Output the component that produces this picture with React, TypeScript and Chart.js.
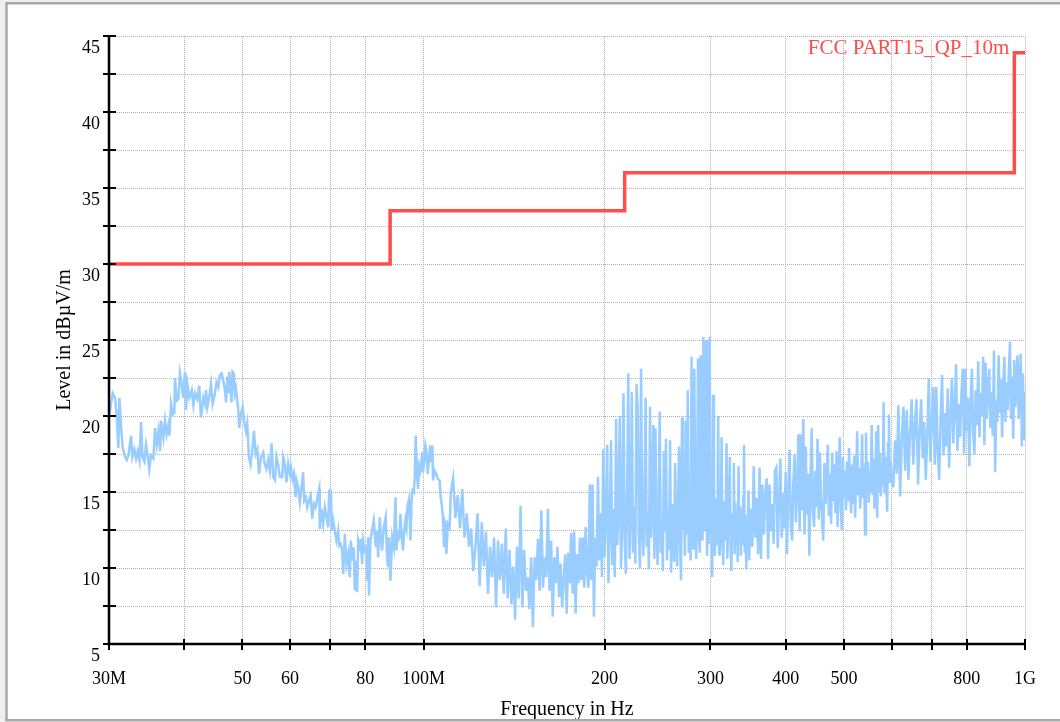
import React, { useEffect, useRef } from 'react';
import { Chart, registerables } from 'chart.js';

Chart.register(...registerables);

const FONT = "'Liberation Serif', 'Times New Roman', serif";

// Axis ticks (MHz) and labels
const freqTicks = [30, 40, 50, 60, 70, 80, 100, 200, 300, 400, 500, 600, 700, 800, 1000];
const freqTickLabels = ['30M', '', '50', '60', '', '80', '100M', '200', '300', '400', '500', '', '', '800', '1G'];
const levelTicks = [5, 7.5, 10, 12.5, 15, 17.5, 20, 22.5, 25, 27.5, 30, 32.5, 35, 37.5, 40, 42.5, 45];
const levelLabelValues = [5, 10, 15, 20, 25, 30, 35, 40, 45];

// Limit line FCC PART15_QP_10m (step changes at these frequencies)
const limitName = 'FCC PART15_QP_10m';
const limitFreq = [30, 88, 216, 960, 1000];
const limitLevel = [30, 33.5, 36, 43.9, 43.9];

// Measured sweep, 30 - 57.7 MHz
const sweepFreqA = [
  30.00, 30.43, 30.70, 30.89, 31.09, 31.22, 31.42, 31.62, 31.91, 32.11,
  32.32, 32.64, 32.81, 33.06, 33.28, 33.49, 33.71, 33.92, 34.10, 34.36,
  34.57, 34.79, 35.00, 35.23, 35.55, 35.78, 36.01, 36.25, 36.48, 36.61,
  36.94, 37.17, 37.40, 37.65, 37.79, 38.04, 38.29, 38.53, 38.63, 38.88,
  39.12, 39.37, 39.61, 39.86, 40.12, 40.28, 40.49, 40.81, 41.18, 41.44,
  41.70, 42.07, 42.38, 42.66, 43.05, 43.33, 43.49, 43.72, 44.05, 44.33,
  44.61, 45.00, 45.28, 45.58, 45.88, 46.17, 46.47, 46.77, 46.95, 47.19,
  47.37, 47.54, 47.78, 47.96, 48.14, 48.39, 48.58, 48.77, 49.02, 49.21,
  49.40, 49.66, 50.04, 50.30, 50.68, 50.93, 51.25, 51.58, 51.91, 52.25,
  52.59, 52.93, 53.27, 53.67, 54.14, 54.48, 54.82, 55.18, 55.54, 55.90,
  56.26, 56.62, 56.97, 57.33, 57.69,
];
const sweepLevelA = [
  20.0, 21.5, 21.2, 20.1, 17.9, 21.2, 19.3, 17.9, 17.3, 17.1,
  17.4, 18.7, 17.3, 17.8, 17.2, 17.7, 17.1, 19.6, 17.3, 17.0,
  18.1, 17.4, 16.5, 17.4, 17.2, 19.2, 18.1, 19.0, 17.7, 19.7,
  18.6, 19.7, 18.8, 19.4, 18.7, 20.8, 20.1, 20.2, 22.5, 21.0,
  21.1, 22.8, 22.1, 21.2, 22.9, 20.4, 22.1, 21.2, 21.7, 20.7,
  21.5, 21.1, 22.0, 19.9, 21.2, 20.8, 21.7, 20.6, 21.3, 22.1,
  20.8, 21.5, 22.2, 21.9, 22.7, 22.8, 22.3, 21.7, 20.9, 22.6,
  21.5, 22.9, 21.7, 20.9, 22.9, 22.8, 21.5, 21.8, 21.0, 20.4,
  19.2, 20.1, 20.6, 19.7, 19.0, 19.5, 17.3, 16.8, 17.7, 19.0,
  17.5, 17.8, 16.2, 17.3, 17.6, 16.8, 16.5, 17.1, 16.4, 18.2,
  16.0, 15.8, 17.3, 16.8, 16.0,
];

// Measured sweep, 58 - 110.5 MHz
const sweepFreqB = [
  58.23, 58.45, 58.81, 59.18, 59.57, 59.96, 60.19, 60.58, 60.89, 61.28,
  61.51, 61.90, 62.29, 62.68, 63.07, 63.32, 63.73, 64.07, 64.48, 64.90,
  65.31, 65.73, 66.15, 66.66, 67.08, 67.22, 67.66, 68.10, 68.55, 69.00,
  69.43, 69.70, 70.14, 70.41, 70.76, 71.20, 71.64, 72.11, 72.40, 72.77,
  73.24, 73.53, 74.00, 74.47, 74.94, 75.42, 75.70, 76.17, 76.56, 76.86,
  77.16, 77.56, 77.87, 78.37, 78.67, 79.07, 79.37, 79.87, 80.38, 80.68,
  80.88, 81.18, 81.59, 82.13, 82.67, 82.99, 83.31, 83.74, 84.06, 84.60,
  84.92, 85.35, 85.88, 86.53, 86.97, 87.31, 87.65, 88.11, 88.68, 89.25,
  89.82, 90.17, 90.74, 91.08, 91.54, 91.88, 92.45, 92.81, 93.30, 93.67,
  94.03, 94.64, 95.12, 95.49, 95.85, 96.34, 96.71, 97.07, 97.44, 97.92,
  98.29, 98.79, 99.18, 99.57, 99.82, 100.21, 100.73, 101.12, 101.64, 102.16,
  102.67, 103.06, 103.45, 103.71, 104.35, 105.00, 105.69, 106.38, 106.79, 107.34,
  107.75, 108.16, 108.71, 109.13, 109.81, 110.50,
];
const sweepLevelB = [
  15.97, 17.29, 16.85, 15.64, 16.85, 16.19, 16.63, 15.86, 16.19, 14.66,
  15.75, 15.31, 14.33, 15.31, 16.30, 14.44, 14.66, 14.00, 14.44, 14.77,
  13.23, 14.22, 14.00, 14.66, 15.20, 12.57, 13.89, 12.90, 14.00, 13.34,
  12.68, 15.09, 15.09, 12.46, 13.12, 12.46, 11.81, 12.46, 11.48, 11.59,
  11.15, 9.61, 12.24, 10.27, 10.93, 9.39, 11.81, 10.49, 11.37, 8.52,
  10.49, 8.41, 11.81, 11.37, 11.92, 10.27, 11.81, 11.15, 11.37, 9.17,
  12.02, 8.19, 11.81, 12.46, 13.12, 12.24, 11.37, 12.46, 10.71, 13.34,
  12.02, 11.15, 12.68, 13.34, 10.71, 10.05, 12.02, 9.17, 12.02, 11.37,
  14.66, 11.15, 12.46, 11.81, 13.56, 12.46, 11.15, 12.24, 13.12, 12.68,
  14.00, 14.55, 11.81, 14.22, 15.09, 14.99, 15.97, 18.71, 16.41, 15.20,
  16.74, 16.41, 17.07, 17.62, 16.30, 16.85, 18.06, 17.73, 16.19, 17.29,
  18.06, 16.96, 18.06, 15.75, 16.41, 16.19, 15.86, 15.75, 14.66, 14.00,
  13.34, 11.37, 13.12, 10.93, 12.90, 12.68,
];

// Measured sweep, 111 - 199 MHz
const sweepFreqC = [
  111, 112, 113, 114, 115, 116, 117, 118, 119, 120,
  121, 122, 123, 124, 125, 126, 127, 128, 129, 130,
  131, 132, 133, 134, 135, 136, 137, 138, 139, 140,
  141, 142, 143, 144, 145, 146, 147, 148, 149, 150,
  151, 152, 153, 154, 155, 156, 157, 158, 159, 160,
  161, 162, 163, 164, 165, 166, 167, 168, 169, 170,
  171, 172, 173, 174, 175, 176, 177, 178, 179, 180,
  181, 182, 183, 184, 185, 186, 187, 188, 189, 190,
  191, 192, 193, 194, 195, 196, 197, 198, 199,
];
const sweepLevelC = [
  14.9, 15.9, 13.3, 14.8, 12.6, 15.2, 12.0, 13.6, 11.4, 12.6,
  9.8, 11.4, 13.6, 8.8, 13.0, 10.1, 12.4, 8.3, 11.4, 9.4,
  12.0, 7.4, 11.8, 9.2, 11.6, 8.3, 12.6, 8.0, 11.2, 7.6,
  10.1, 6.6, 11.4, 8.0, 14.1, 7.4, 11.2, 8.5, 9.4, 7.3,
  10.7, 6.1, 10.7, 9.2, 11.9, 8.5, 13.8, 8.7, 10.7, 9.4,
  13.9, 8.5, 11.8, 6.8, 10.7, 9.0, 11.4, 8.1, 10.3, 7.4,
  9.2, 10.9, 7.0, 11.0, 9.0, 12.3, 8.3, 12.4, 7.0, 10.9,
  9.0, 12.0, 9.2, 12.0, 8.7, 12.7, 9.8, 8.7, 15.5, 9.2,
  15.5, 6.8, 12.0, 10.1, 16.0, 10.5, 13.6, 9.4, 17.8,
];

// Measured sweep, 200 - 350 MHz
const sweepFreqD = [
  200, 201, 202, 203, 204, 205, 206, 207, 208, 209,
  210, 211, 212, 213, 214, 215, 216, 217, 218, 219,
  220, 221, 222, 223, 224, 225, 226, 227, 228, 229,
  230, 231, 232, 233, 234, 235, 236, 237, 238, 239,
  240, 241, 242, 243, 244, 245, 246, 247, 248, 249,
  250, 251, 252, 253, 254, 255, 256, 257, 258, 259,
  260, 261, 262, 263, 264, 265, 266, 267, 268, 269,
  270, 271, 272, 273, 274, 275, 276, 277, 278, 279,
  280, 281, 282, 283, 284, 285, 286, 287, 288, 289,
  290, 291, 292, 293, 294, 295, 296, 297, 298, 299,
  300, 301, 302, 303, 304, 305, 306, 307, 308, 309,
  310, 311, 312, 313, 314, 315, 316, 317, 318, 319,
  320, 321, 322, 323, 324, 325, 326, 327, 328, 329,
  330, 331, 332, 333, 334, 335, 336, 337, 338, 339,
  340, 341, 342, 343, 344, 345, 346, 347, 348, 349,
  350,
];
const sweepLevelD = [
  10.7, 13.5, 18.1, 9.0, 12.8, 18.4, 10.2, 13.9, 9.4, 19.8,
  11.5, 14.3, 20.0, 10.0, 13.2, 21.5, 11.8, 9.6, 14.6, 22.8,
  10.6, 13.4, 21.6, 11.0, 14.0, 10.3, 22.1, 20.5, 12.2, 10.0,
  23.1, 12.8, 10.8, 14.5, 21.2, 11.4, 13.6, 9.9, 20.6, 12.0,
  14.8, 19.4, 10.6, 19.2, 12.6, 10.2, 14.0, 20.3, 11.0, 13.3,
  9.8, 17.7, 12.4, 18.5, 10.5, 13.8, 11.2, 18.4, 9.7, 14.2,
  12.0, 10.4, 16.9, 12.9, 10.1, 14.4, 18.0, 11.6, 9.2, 19.9,
  12.5, 14.6, 10.8, 19.7, 12.2, 21.7, 11.0, 14.2, 10.5, 23.9,
  12.8, 11.2, 23.1, 13.4, 10.6, 14.9, 23.8, 12.0, 11.0, 24.0,
  13.6, 11.8, 25.2, 12.4, 14.5, 25.0, 10.8, 13.2, 11.6, 25.2,
  12.3, 14.0, 9.4, 21.4, 12.6, 10.8, 14.6, 11.5, 13.0, 20.0,
  10.9, 13.8, 11.4, 18.6, 12.5, 10.2, 14.4, 11.8, 13.2, 18.2,
  10.6, 12.9, 14.6, 17.3, 11.2, 9.8, 13.6, 12.0, 16.9, 10.9,
  14.3, 11.6, 12.8, 10.4, 16.7, 12.2, 14.0, 10.8, 13.1, 11.5,
  14.7, 18.1, 11.0, 13.5, 9.9, 12.8, 11.7, 15.1, 10.5, 13.9,
  12.0,
];

// Measured sweep, 352 - 600 MHz
const sweepFreqE = [
  352, 354, 356, 358, 360, 362, 364, 366, 368, 370,
  372, 374, 376, 378, 380, 382, 384, 386, 388, 390,
  392, 394, 396, 398, 400, 402, 404, 406, 408, 410,
  412, 414, 416, 418, 420, 422, 424, 426, 428, 430,
  432, 434, 436, 438, 440, 442, 444, 446, 448, 450,
  452, 454, 456, 458, 460, 462, 464, 466, 468, 470,
  472, 474, 476, 478, 480, 482, 484, 486, 488, 490,
  492, 494, 496, 498, 500, 502, 504, 506, 508, 510,
  512, 514, 516, 518, 520, 522, 524, 526, 528, 530,
  532, 534, 536, 538, 540, 542, 544, 546, 548, 550,
  552, 554, 556, 558, 560, 562, 564, 566, 568, 570,
  572, 574, 576, 578, 580, 582, 584, 586, 588, 590,
  592, 594, 596, 598, 600,
];
const sweepLevelE = [
  11.4, 16.7, 12.0, 14.6, 10.9, 16.6, 10.6, 15.5, 12.2, 14.8,
  15.9, 10.6, 15.5, 12.4, 14.2, 11.6, 16.4, 16.6, 11.3, 14.5,
  17.2, 12.0, 14.9, 12.6, 16.3, 10.9, 15.1, 17.8, 12.8, 11.8,
  15.6, 17.5, 13.0, 15.2, 18.8, 12.4, 18.8, 13.8, 19.8, 12.2,
  18.0, 13.5, 16.2, 10.8, 15.8, 19.2, 13.6, 12.7, 16.4, 14.0,
  18.5, 13.2, 17.6, 14.6, 13.0, 11.8, 16.9, 14.2, 15.8, 18.1,
  13.4, 16.2, 12.9, 17.6, 14.4, 16.8, 13.6, 17.7, 12.7, 15.9,
  18.6, 14.0, 12.5, 17.3, 14.6, 16.4, 13.8, 17.0, 14.4, 17.9,
  15.0, 13.6, 16.8, 14.2, 17.4, 13.3, 16.1, 19.0, 14.8, 16.6,
  13.9, 15.5, 18.8, 14.6, 16.9, 12.2, 18.9, 15.2, 17.0, 14.3,
  16.4, 15.0, 19.4, 14.8, 17.2, 13.9, 16.3, 19.0, 13.3, 19.4,
  15.1, 17.6, 14.7, 16.8, 15.4, 20.9, 14.9, 17.3, 15.8, 13.7,
  18.2, 20.1, 15.6, 17.0, 16.0,
];

// Measured sweep, 604 - 1000 MHz
const sweepFreqF = [
  604, 608, 612, 616, 620, 624, 628, 632, 636, 640,
  644, 648, 652, 656, 660, 664, 668, 672, 676, 680,
  684, 688, 692, 696, 700, 704, 708, 712, 716, 720,
  724, 728, 732, 736, 740, 744, 748, 752, 756, 760,
  764, 768, 772, 776, 780, 784, 788, 792, 796, 800,
  804, 808, 812, 816, 820, 824, 828, 832, 836, 840,
  844, 848, 852, 856, 860, 864, 868, 872, 876, 880,
  884, 888, 892, 896, 900, 904, 908, 912, 916, 920,
  924, 928, 932, 936, 940, 944, 948, 952, 956, 960,
  964, 968, 972, 976, 980, 984, 988, 992, 996, 1000,
];
const sweepLevelF = [
  15.3, 18.4, 16.2, 20.7, 14.7, 18.6, 20.6, 16.4, 20.4, 15.8,
  18.9, 21.1, 16.8, 19.4, 21.1, 15.5, 19.0, 21.1, 17.2, 19.6,
  15.8, 18.8, 22.5, 17.0, 19.5, 21.9, 16.8, 21.9, 17.6, 15.8,
  19.8, 22.7, 17.4, 20.2, 18.0, 21.8, 16.6, 20.0, 22.5, 18.2,
  20.6, 23.4, 17.7, 20.8, 18.6, 21.4, 23.1, 17.5, 23.1, 19.0,
  21.2, 16.7, 20.6, 23.1, 18.8, 17.5, 21.7, 19.4, 23.6, 18.6,
  21.5, 20.0, 23.9, 18.1, 23.5, 19.8, 21.8, 23.1, 19.2, 21.6,
  18.7, 24.3, 16.3, 21.0, 19.6, 24.0, 20.2, 22.4, 18.6, 21.9,
  23.9, 19.6, 22.2, 20.4, 23.0, 24.9, 19.8, 22.6, 18.5, 23.7,
  20.6, 22.3, 24.0, 19.8, 22.0, 24.1, 18.0, 22.8, 18.4, 21.6,
];

function toPoints(f: number[], l: number[]) {
  return f.map((x, i) => ({ x, y: l[i] }));
}

const decorPlugin = {
  id: 'decor',
  beforeDraw(chart: any) {
    const { ctx, width, height } = chart;
    ctx.save();
    ctx.fillStyle = '#efefef';
    ctx.fillRect(0, 0, width, height);
    ctx.fillStyle = '#ffffff';
    ctx.fillRect(6, 3, width, height - 3);
    ctx.restore();
  },
  afterDraw(chart: any) {
    const { ctx, chartArea } = chart;
    const xs = chart.scales.x;
    const ys = chart.scales.y;
    ctx.save();
    // axis lines
    ctx.strokeStyle = '#000';
    ctx.lineWidth = 2.5;
    ctx.beginPath();
    ctx.moveTo(chartArea.left, chartArea.top);
    ctx.lineTo(chartArea.left, chartArea.bottom);
    ctx.lineTo(chartArea.right, chartArea.bottom);
    ctx.stroke();
    // crossing tick marks
    ctx.lineWidth = 2;
    ctx.beginPath();
    for (const v of freqTicks) {
      const px = Math.round(xs.getPixelForValue(v));
      ctx.moveTo(px, chartArea.bottom - 5);
      ctx.lineTo(px, chartArea.bottom + 6);
    }
    for (const v of levelTicks) {
      const py = Math.round(ys.getPixelForValue(v));
      ctx.moveTo(chartArea.left - 6, py);
      ctx.lineTo(chartArea.left + 7, py);
    }
    ctx.stroke();
    // limit line label
    ctx.fillStyle = '#ff4d4d';
    ctx.font = `21px ${FONT}`;
    ctx.textAlign = 'right';
    ctx.textBaseline = 'alphabetic';
    ctx.fillText(
      limitName,
      xs.getPixelForValue(limitFreq[3]) - 5,
      ys.getPixelForValue(limitLevel[3]) + 1
    );
    // outer frame
    ctx.strokeStyle = '#a8a8a8';
    ctx.lineWidth = 2.5;
    ctx.strokeRect(6.5, 3.25, chart.width + 20, 717);
    ctx.restore();
  },
};

export default function App() {
  const canvasRef = useRef<HTMLCanvasElement | null>(null);

  useEffect(() => {
    if (!canvasRef.current) return;
    const sweep = [
      ...toPoints(sweepFreqA, sweepLevelA),
      ...toPoints(sweepFreqB, sweepLevelB),
      ...toPoints(sweepFreqC, sweepLevelC),
      ...toPoints(sweepFreqD, sweepLevelD),
      ...toPoints(sweepFreqE, sweepLevelE),
      ...toPoints(sweepFreqF, sweepLevelF),
    ];
    const limit = toPoints(limitFreq, limitLevel);

    const chart = new Chart(canvasRef.current, {
      type: 'line',
      data: {
        datasets: [
          {
            label: 'Sweep',
            data: sweep,
            borderColor: '#99ccff',
            borderWidth: 2.5,
            pointRadius: 0,
            tension: 0,
            fill: false,
          },
          {
            label: limitName,
            data: limit,
            borderColor: '#ff4d4d',
            borderWidth: 3.5,
            pointRadius: 0,
            stepped: 'before',
            fill: false,
          },
        ],
      },
      options: {
        responsive: false,
        animation: false,
        devicePixelRatio: 1,
        parsing: false,
        layout: { padding: { left: 20, right: 34, top: 36, bottom: 0 } },
        plugins: {
          legend: { display: false },
          tooltip: { enabled: false },
        },
        scales: {
          x: {
            type: 'logarithmic',
            min: 30,
            max: 1000,
            afterBuildTicks: (scale: any) => {
              scale.ticks = freqTicks.map((v) => ({ value: v }));
            },
            afterFit: (scale: any) => {
              scale.height = 78;
            },
            ticks: {
              autoSkip: false,
              maxRotation: 0,
              minRotation: 0,
              padding: 24,
              color: '#000',
              font: { family: FONT, size: 18 },
              callback: (value: any) => {
                const i = freqTicks.indexOf(Number(value));
                return i >= 0 ? freqTickLabels[i] : '';
              },
            },
            grid: { color: '#b0b0b0', lineWidth: 1, drawTicks: false },
            border: { display: false, dash: [1, 1] },
            title: {
              display: true,
              text: 'Frequency in Hz',
              color: '#000',
              font: { family: FONT, size: 20 },
              padding: { top: 0, bottom: 0 },
            },
          },
          y: {
            type: 'linear',
            min: 5,
            max: 45,
            afterBuildTicks: (scale: any) => {
              scale.ticks = levelTicks.map((v) => ({ value: v }));
            },
            afterFit: (scale: any) => {
              scale.width = 89;
            },
            ticks: {
              autoSkip: false,
              padding: 9,
              labelOffset: 12,
              color: '#000',
              font: { family: FONT, size: 18 },
              callback: (value: any) =>
                levelLabelValues.includes(Number(value)) ? String(value) : '',
            },
            grid: { color: '#b0b0b0', lineWidth: 1, drawTicks: false },
            border: { display: false, dash: [1, 1] },
            title: {
              display: true,
              text: 'Level in dBµV/m',
              color: '#000',
              font: { family: FONT, size: 20 },
              padding: { top: 33, bottom: 0 },
            },
          },
        },
      },
      plugins: [decorPlugin],
    });

    return () => {
      chart.destroy();
    };
  }, []);

  return (
    <div style={{ position: 'fixed', left: 0, top: 0, width: 1060, height: 722 }}>
      <canvas ref={canvasRef} width={1060} height={722} style={{ display: 'block' }} />
    </div>
  );
}
